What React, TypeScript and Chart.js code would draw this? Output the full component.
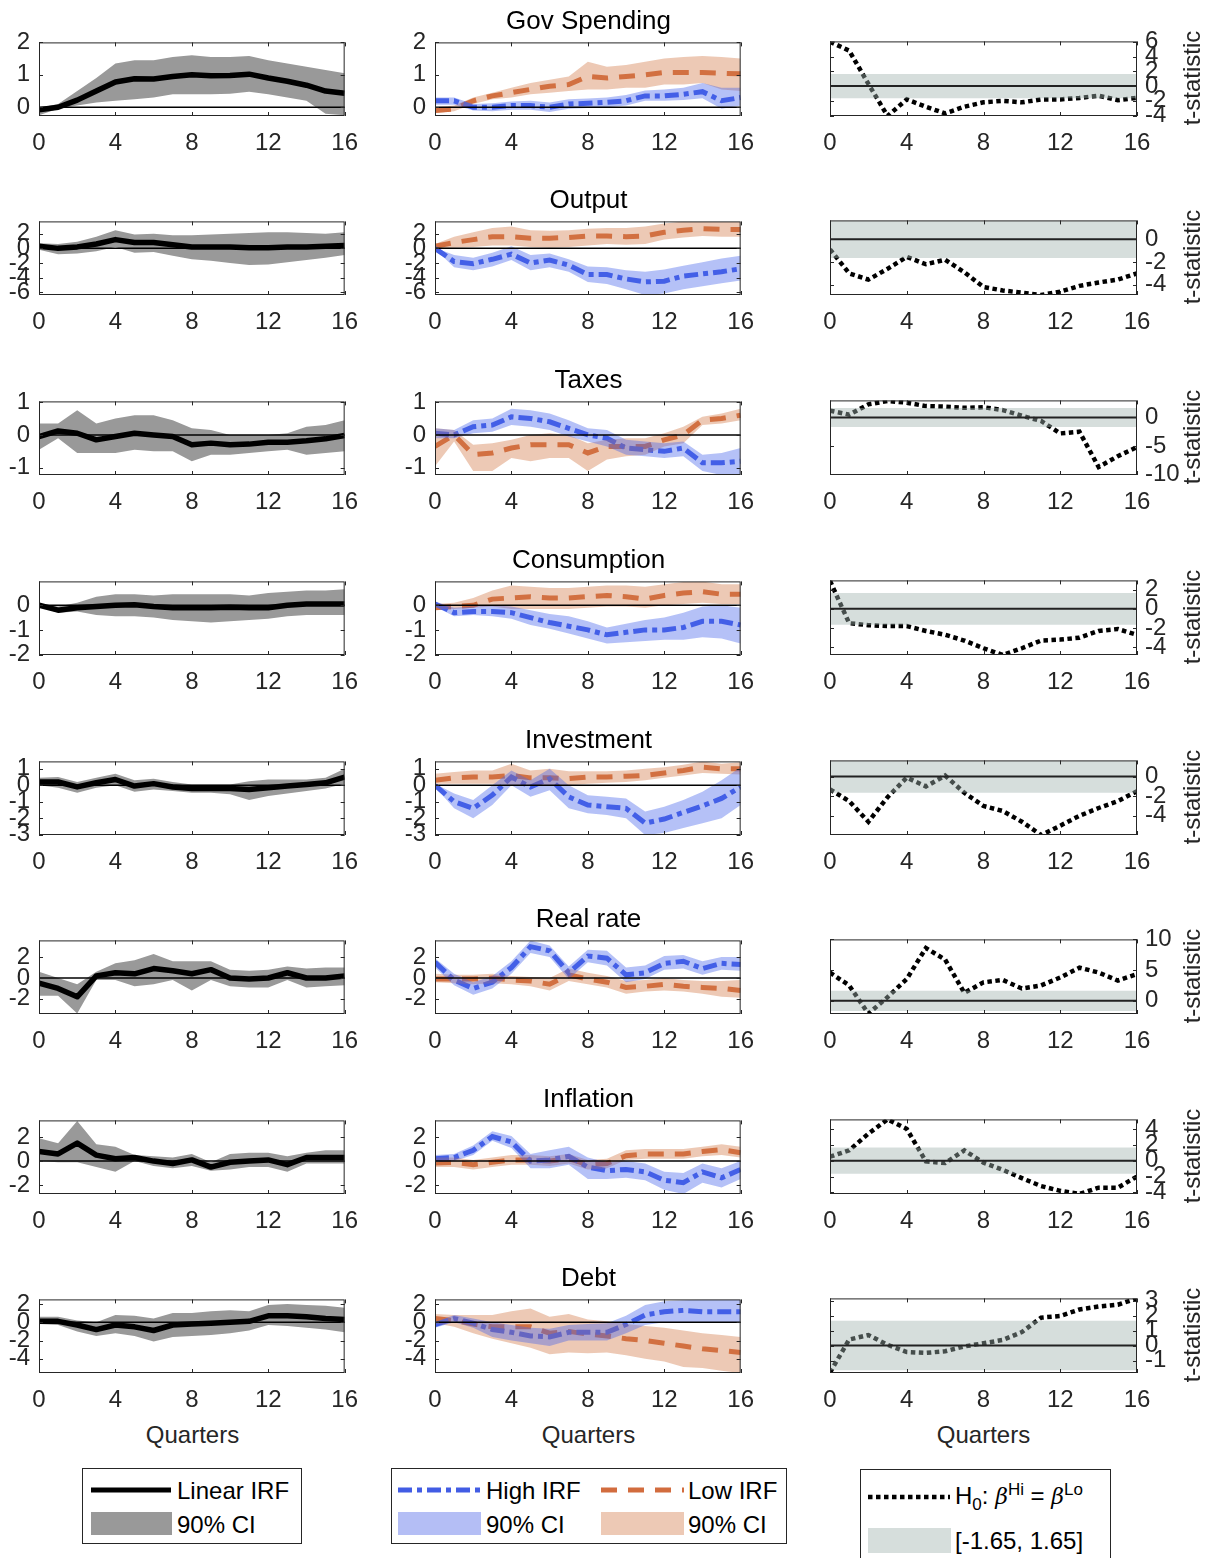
import React, { useEffect, useRef } from 'react';
import { Chart, registerables } from 'chart.js';

Chart.register(...registerables);

const FONT = '"Liberation Sans", Arial, Helvetica, sans-serif';
Chart.defaults.font.family = FONT;
Chart.defaults.font.size = 24;

// ---------------- data ----------------
const QUARTERS = [0, 1, 2, 3, 4, 5, 6, 7, 8, 9, 10, 11, 12, 13, 14, 15, 16];
const X_TICKS = [0, 4, 8, 12, 16];
const VARIABLES = ['Gov Spending', 'Output', 'Taxes', 'Consumption', 'Investment', 'Real rate', 'Inflation', 'Debt'];
const CRIT = 1.65;

// Gov Spending
const GOV_LIN = [-0.08, 0.0, 0.22, 0.5, 0.78, 0.88, 0.87, 0.95, 1.0, 0.97, 0.98, 1.02, 0.9, 0.8, 0.68, 0.5, 0.43];
const GOV_LIN_LO = [-0.25, -0.05, 0.05, 0.15, 0.2, 0.25, 0.3, 0.4, 0.4, 0.4, 0.42, 0.48, 0.4, 0.3, 0.2, -0.2, -0.25];
const GOV_LIN_HI = [-0.02, 0.1, 0.5, 0.9, 1.35, 1.45, 1.45, 1.55, 1.6, 1.55, 1.55, 1.58, 1.45, 1.35, 1.25, 1.15, 1.05];
const GOV_HIGH = [0.2, 0.2, 0.0, 0.0, 0.05, 0.05, 0.0, 0.1, 0.12, 0.15, 0.2, 0.35, 0.35, 0.4, 0.48, 0.2, 0.3];
const GOV_HIGH_LO = [0.08, 0.08, -0.1, -0.12, -0.08, -0.08, -0.15, -0.05, -0.02, 0.0, 0.05, 0.2, 0.2, 0.22, 0.28, -0.05, 0.05];
const GOV_HIGH_HI = [0.3, 0.3, 0.1, 0.12, 0.18, 0.2, 0.15, 0.25, 0.27, 0.3, 0.38, 0.52, 0.55, 0.6, 0.75, 0.6, 0.6];
const GOV_LOW = [-0.1, -0.05, 0.2, 0.35, 0.45, 0.55, 0.65, 0.7, 0.95, 0.9, 0.95, 1.0, 1.07, 1.07, 1.07, 1.05, 1.03];
const GOV_LOW_LO = [-0.18, -0.12, 0.1, 0.25, 0.3, 0.4, 0.45, 0.5, 0.55, 0.55, 0.6, 0.6, 0.7, 0.7, 0.75, 0.55, 0.5];
const GOV_LOW_HI = [0.0, 0.05, 0.3, 0.45, 0.6, 0.75, 0.85, 0.95, 1.4, 1.25, 1.3, 1.4, 1.5, 1.55, 1.58, 1.55, 1.5];
const GOV_T = [6.0, 4.8, 0.3, -4.05, -1.8, -2.8, -3.7, -2.8, -2.2, -2.0, -2.2, -1.8, -1.8, -1.6, -1.3, -1.9, -1.6];

// Output
const OUT_LIN = [0.3, 0.0, 0.2, 0.6, 1.2, 0.8, 0.8, 0.5, 0.2, 0.2, 0.2, 0.1, 0.1, 0.2, 0.2, 0.3, 0.4];
const OUT_LIN_LO = [-0.2, -0.8, -0.7, -0.4, 0.2, -0.6, -0.5, -1.0, -1.5, -1.7, -2.0, -2.3, -2.2, -1.9, -1.6, -1.3, -0.9];
const OUT_LIN_HI = [0.7, 0.6, 0.9, 1.6, 2.5, 1.9, 2.0, 1.8, 1.8, 1.9, 2.0, 2.1, 2.2, 2.2, 2.1, 2.0, 2.2];
const OUT_HIGH = [0.0, -1.8, -2.1, -1.5, -0.8, -2.0, -1.6, -2.3, -3.6, -3.6, -4.2, -4.6, -4.5, -3.8, -3.5, -3.2, -2.8];
const OUT_HIGH_LO = [-0.1, -2.6, -3.0, -2.5, -1.6, -3.0, -2.6, -3.2, -4.6, -4.9, -5.6, -6.4, -6.2, -5.6, -5.2, -4.8, -4.4];
const OUT_HIGH_HI = [0.1, -0.9, -1.3, -0.6, 0.3, -0.9, -0.7, -1.5, -2.5, -2.6, -3.0, -3.2, -2.9, -2.4, -1.9, -1.4, -1.0];
const OUT_LOW = [0.3, 0.8, 1.2, 1.6, 1.6, 1.4, 1.4, 1.5, 1.7, 1.7, 1.6, 1.7, 2.2, 2.5, 2.7, 2.6, 2.6];
const OUT_LOW_LO = [0.0, 0.1, 0.2, 0.4, 0.4, 0.2, 0.1, 0.2, 0.4, 0.6, 0.5, 0.6, 1.2, 1.5, 1.7, 1.6, 1.6];
const OUT_LOW_HI = [0.6, 1.6, 2.2, 2.8, 3.0, 2.5, 2.4, 2.5, 2.7, 2.8, 2.8, 3.0, 3.4, 3.7, 3.7, 3.7, 3.7];
const OUT_T = [-0.9, -3.0, -3.55, -2.6, -1.55, -2.2, -1.8, -2.9, -4.2, -4.5, -4.7, -4.9, -4.6, -4.1, -3.8, -3.55, -3.0];

// Taxes
const TAX_LIN = [-0.05, 0.12, 0.05, -0.15, -0.05, 0.05, 0.0, -0.05, -0.3, -0.25, -0.3, -0.28, -0.22, -0.22, -0.18, -0.12, -0.02];
const TAX_LIN_LO = [-0.45, -0.1, -0.55, -0.55, -0.55, -0.45, -0.5, -0.5, -0.8, -0.6, -0.6, -0.55, -0.5, -0.45, -0.6, -0.55, -0.5];
const TAX_LIN_HI = [0.35, 0.35, 0.75, 0.35, 0.5, 0.6, 0.6, 0.45, 0.2, 0.15, 0.0, 0.0, 0.0, 0.05, 0.25, 0.3, 0.45];
const TAX_HIGH = [0.05, 0.0, 0.25, 0.3, 0.55, 0.5, 0.4, 0.2, 0.0, -0.1, -0.4, -0.45, -0.5, -0.4, -0.85, -0.85, -0.8];
const TAX_HIGH_LO = [-0.1, -0.1, 0.05, 0.1, 0.3, 0.25, 0.15, -0.05, -0.2, -0.35, -0.6, -0.65, -0.7, -0.65, -1.1, -1.22, -1.22];
const TAX_HIGH_HI = [0.2, 0.15, 0.45, 0.5, 0.8, 0.75, 0.65, 0.45, 0.2, 0.15, -0.15, -0.2, -0.25, -0.2, -0.6, -0.55, -0.4];
const TAX_LOW = [-0.35, 0.0, -0.6, -0.55, -0.4, -0.3, -0.3, -0.3, -0.55, -0.35, -0.35, -0.35, -0.15, 0.0, 0.45, 0.5, 0.6];
const TAX_LOW_LO = [-0.95, -0.2, -1.1, -1.1, -0.7, -0.8, -0.7, -0.7, -1.1, -0.75, -0.65, -0.6, -0.35, -0.25, 0.3, 0.35, 0.45];
const TAX_LOW_HI = [0.2, 0.15, -0.3, -0.25, -0.15, 0.0, 0.05, 0.0, -0.25, -0.15, -0.1, -0.1, 0.05, 0.25, 0.55, 0.65, 0.8];
const TAX_T = [1.2, 0.5, 2.3, 2.9, 2.6, 2.0, 1.9, 1.7, 1.8, 1.3, 0.3, -0.6, -2.8, -2.5, -8.7, -6.8, -5.2];

// Consumption
const CON_LIN = [0.0, -0.2, -0.1, -0.05, 0.0, 0.02, -0.05, -0.1, -0.1, -0.1, -0.08, -0.1, -0.1, 0.0, 0.05, 0.05, 0.05];
const CON_LIN_LO = [-0.05, -0.3, -0.25, -0.4, -0.45, -0.45, -0.5, -0.6, -0.65, -0.7, -0.65, -0.6, -0.55, -0.45, -0.4, -0.4, -0.4];
const CON_LIN_HI = [0.05, -0.05, 0.1, 0.35, 0.45, 0.45, 0.4, 0.45, 0.45, 0.45, 0.45, 0.4, 0.5, 0.55, 0.6, 0.6, 0.65];
const CON_HIGH = [0.05, -0.3, -0.25, -0.25, -0.3, -0.5, -0.7, -0.85, -1.0, -1.2, -1.1, -1.0, -1.0, -0.9, -0.65, -0.65, -0.8];
const CON_HIGH_LO = [-0.05, -0.45, -0.4, -0.45, -0.55, -0.8, -0.95, -1.15, -1.35, -1.55, -1.5, -1.45, -1.4, -1.4, -1.3, -1.35, -1.55];
const CON_HIGH_HI = [0.15, -0.1, -0.05, 0.0, -0.05, -0.2, -0.35, -0.45, -0.65, -0.9, -0.75, -0.6, -0.5, -0.3, -0.05, 0.0, -0.1];
const CON_LOW = [-0.1, -0.05, 0.0, 0.25, 0.3, 0.35, 0.3, 0.3, 0.35, 0.4, 0.35, 0.25, 0.4, 0.5, 0.55, 0.45, 0.45];
const CON_LOW_LO = [-0.15, -0.15, -0.1, -0.05, -0.15, -0.15, -0.15, -0.15, -0.1, -0.05, -0.05, -0.1, 0.0, 0.05, 0.1, 0.05, 0.05];
const CON_LOW_HI = [0.05, 0.1, 0.3, 0.6, 0.8, 0.75, 0.7, 0.7, 0.75, 0.8, 0.8, 0.75, 0.85, 0.95, 0.97, 0.85, 0.85];
const CON_T = [2.9, -1.5, -1.7, -1.8, -1.8, -2.3, -2.7, -3.3, -4.1, -4.8, -4.1, -3.3, -3.2, -3.0, -2.3, -2.1, -2.7];

// Investment
const INV_LIN = [0.2, 0.2, -0.1, 0.15, 0.35, -0.05, 0.1, -0.1, -0.2, -0.2, -0.2, -0.25, -0.15, -0.05, 0.05, 0.15, 0.5];
const INV_LIN_LO = [0.0, -0.15, -0.45, -0.15, 0.0, -0.4, -0.25, -0.35, -0.45, -0.45, -0.55, -0.9, -0.65, -0.5, -0.35, -0.2, 0.1];
const INV_LIN_HI = [0.45, 0.5, 0.2, 0.45, 0.7, 0.3, 0.4, 0.2, 0.05, 0.05, 0.05, 0.25, 0.35, 0.35, 0.35, 0.45, 1.0];
const INV_HIGH = [0.0, -1.0, -1.4, -0.6, 0.5, -0.1, 0.4, -0.7, -1.2, -1.3, -1.4, -2.3, -2.05, -1.65, -1.25, -0.8, -0.1];
const INV_HIGH_LO = [-0.1, -1.4, -2.0, -1.2, 0.0, -0.7, -0.3, -1.4, -1.7, -1.8, -2.0, -3.02, -2.9, -2.6, -2.3, -2.0, -1.2];
const INV_HIGH_HI = [0.1, -0.5, -0.9, 0.0, 0.9, 0.3, 1.0, 0.0, -0.6, -0.7, -0.8, -1.6, -1.3, -0.9, -0.4, 0.3, 1.1];
const INV_LOW = [0.3, 0.45, 0.5, 0.5, 0.6, 0.45, 0.45, 0.4, 0.5, 0.5, 0.55, 0.6, 0.75, 0.9, 1.1, 1.0, 1.0];
const INV_LOW_LO = [0.1, 0.1, 0.1, 0.1, 0.0, 0.0, -0.05, 0.0, 0.1, 0.15, 0.2, 0.3, 0.45, 0.6, 0.75, 0.7, 0.65];
const INV_LOW_HI = [0.7, 0.8, 0.9, 0.9, 1.3, 0.9, 1.0, 0.85, 0.85, 0.85, 0.9, 1.0, 1.1, 1.25, 1.45, 1.3, 1.4];
const INV_T = [-1.3, -2.5, -4.6, -2.1, -0.1, -1.0, 0.1, -1.65, -3.0, -3.5, -4.6, -5.95, -5.0, -4.0, -3.2, -2.5, -1.5];

// Real rate
const RR_LIN = [-0.5, -1.0, -1.8, 0.2, 0.5, 0.4, 0.9, 0.7, 0.4, 0.8, 0.0, -0.1, 0.0, 0.5, 0.0, 0.0, 0.2];
const RR_LIN_LO = [-1.7, -1.7, -3.4, -0.2, -0.2, -0.8, -0.6, -0.2, -1.2, -0.2, -0.8, -0.9, -0.9, -0.2, -0.9, -0.8, -0.7];
const RR_LIN_HI = [0.6, 0.0, -0.6, 0.6, 1.4, 1.7, 2.3, 1.6, 1.6, 1.6, 0.8, 0.7, 0.8, 1.1, 0.9, 1.0, 1.0];
const RR_HIGH = [1.5, -0.2, -1.0, -0.4, 1.0, 3.0, 2.6, 0.5, 2.1, 1.9, 0.3, 0.5, 1.4, 1.6, 0.9, 1.4, 1.3];
const RR_HIGH_LO = [1.0, -0.7, -1.6, -1.0, 0.4, 2.4, 2.0, -0.1, 1.5, 1.2, -0.4, -0.1, 0.8, 0.9, 0.3, 0.8, 0.7];
const RR_HIGH_HI = [1.9, 0.4, -0.4, 0.2, 1.6, 3.6, 3.1, 1.1, 2.7, 2.6, 1.0, 1.2, 2.1, 2.2, 1.6, 2.0, 2.0];
const RR_LOW = [-0.1, -0.1, -0.1, 0.0, -0.2, -0.3, -0.6, 0.3, -0.1, -0.4, -0.9, -0.8, -0.6, -0.8, -0.9, -1.0, -1.2];
const RR_LOW_LO = [-0.4, -0.5, -0.6, -0.5, -0.6, -0.8, -1.2, -0.3, -0.6, -0.9, -1.5, -1.3, -1.2, -1.3, -1.5, -1.8, -1.9];
const RR_LOW_HI = [0.4, 0.3, 0.3, 0.4, 0.2, 0.1, 0.0, 0.9, 0.5, 0.2, -0.3, -0.2, 0.0, -0.2, -0.3, -0.3, -0.2];
const RR_T = [4.6, 2.5, -2.1, 0.6, 3.55, 8.6, 6.7, 1.3, 3.0, 3.4, 2.0, 2.5, 3.8, 5.4, 4.6, 3.3, 4.35];

// Inflation
const INF_LIN = [0.8, 0.6, 1.5, 0.5, 0.2, 0.3, 0.0, -0.2, 0.1, -0.5, -0.1, 0.0, 0.1, -0.3, 0.3, 0.3, 0.3];
const INF_LIN_LO = [0.0, -0.1, -0.1, -0.5, -0.9, 0.0, -0.4, -0.6, -0.4, -0.8, -0.7, -0.5, -0.5, -0.9, -0.2, -0.2, -0.2];
const INF_LIN_HI = [1.9, 1.5, 3.35, 1.4, 1.2, 0.5, 0.4, 0.3, 0.6, -0.1, 0.6, 0.7, 0.7, 0.4, 0.7, 0.9, 0.9];
const INF_HIGH = [0.2, 0.3, 0.9, 2.05, 1.6, 0.0, 0.1, 0.4, -0.5, -0.8, -0.7, -0.9, -1.6, -1.8, -0.9, -1.4, -0.7];
const INF_HIGH_LO = [-0.1, 0.0, 0.5, 1.7, 1.1, -0.6, -0.6, -0.3, -1.5, -1.5, -1.4, -1.6, -2.4, -2.75, -1.8, -2.2, -1.5];
const INF_HIGH_HI = [0.5, 0.6, 1.3, 2.5, 2.1, 0.6, 0.9, 1.2, 0.3, -0.1, 0.0, -0.2, -0.9, -1.0, -0.2, -0.6, 0.0];
const INF_LOW = [-0.15, -0.1, -0.3, -0.1, 0.1, 0.1, 0.0, 0.2, -0.3, -0.2, 0.45, 0.6, 0.6, 0.6, 0.8, 0.95, 0.7];
const INF_LOW_LO = [-0.5, -0.5, -0.7, -0.5, -0.3, -0.3, -0.4, -0.2, -0.7, -0.6, 0.1, 0.2, 0.2, 0.2, 0.4, 0.5, 0.3];
const INF_LOW_HI = [0.3, 0.3, 0.1, 0.3, 0.5, 0.5, 0.4, 0.6, 0.1, 0.2, 0.9, 1.0, 1.0, 1.0, 1.2, 1.4, 1.2];
const INF_T = [0.5, 1.3, 3.4, 5.2, 4.0, -0.1, -0.3, 1.3, -0.25, -1.15, -2.2, -3.2, -3.8, -4.2, -3.4, -3.4, -2.0];

// Debt
const DEBT_LIN = [0.1, 0.1, -0.3, -0.8, -0.3, -0.5, -0.9, -0.3, -0.2, -0.1, 0.0, 0.1, 0.7, 0.7, 0.6, 0.4, 0.3];
const DEBT_LIN_LO = [-0.2, -0.3, -1.0, -1.5, -1.2, -1.5, -2.1, -1.6, -1.5, -1.4, -1.2, -0.9, -0.3, -0.4, -0.6, -0.8, -1.1];
const DEBT_LIN_HI = [0.6, 0.6, 0.2, 0.0, 0.8, 0.7, 0.4, 1.0, 1.0, 1.2, 1.3, 1.2, 1.9, 2.0, 1.9, 1.8, 1.6];
const DEBT_HIGH = [-0.25, 0.4, -0.1, -0.8, -1.1, -1.5, -1.6, -1.1, -1.1, -1.1, -0.25, 0.8, 1.15, 1.3, 1.15, 1.15, 1.15];
const DEBT_HIGH_LO = [-0.6, 0.0, -0.6, -1.6, -2.0, -2.3, -2.6, -2.0, -2.0, -2.0, -1.2, -0.3, 0.0, 0.0, 0.0, 0.0, -0.1];
const DEBT_HIGH_HI = [0.0, 0.8, 0.4, 0.0, -0.3, -0.6, -0.7, -0.3, -0.2, -0.1, 0.7, 1.9, 2.3, 2.4, 2.5, 2.5, 2.5];
const DEBT_LOW = [0.4, 0.2, -0.2, -0.5, -0.5, -0.5, -1.2, -1.0, -1.3, -1.5, -1.8, -2.0, -2.3, -2.6, -2.9, -3.1, -3.3];
const DEBT_LOW_LO = [-0.1, -0.5, -1.2, -1.8, -2.3, -2.8, -3.5, -3.3, -3.4, -3.3, -3.6, -4.0, -4.3, -4.9, -5.0, -5.3, -5.55];
const DEBT_LOW_HI = [0.9, 0.8, 0.8, 0.8, 1.2, 1.5, 0.6, 0.9, 0.3, 0.1, -0.2, -0.4, -0.6, -0.9, -1.2, -1.4, -1.6];
const DEBT_T = [-1.8, 0.4, 0.7, 0.05, -0.43, -0.49, -0.38, -0.06, 0.15, 0.37, 0.9, 1.86, 1.97, 2.4, 2.6, 2.72, 3.14];

// axis limits and ticks (IRF columns share limits per row; t-statistic column separate)
const IRF_Y_MIN = [-0.27, -6.4, -1.22, -2.02, -3.02, -3.45, -2.75, -5.55];
const IRF_Y_MAX = [2.0, 3.7, 1.02, 0.97, 1.45, 3.6, 3.4, 2.5];
const IRF_Y_TICKS = [[0, 1, 2], [-6, -4, -2, 0, 2], [-1, 0, 1], [-2, -1, 0], [-3, -2, -1, 0, 1], [-2, 0, 2], [-2, 0, 2], [-4, -2, 0, 2]];
const T_Y_MIN = [-4.05, -4.9, -10.1, -4.8, -5.95, -2.15, -4.2, -1.83];
const T_Y_MAX = [6.05, 1.65, 3.0, 2.95, 1.65, 10, 5.2, 3.14];
const T_Y_TICKS = [[-4, -2, 0, 2, 4, 6], [-4, -2, 0], [-10, -5, 0], [-4, -2, 0, 2], [-4, -2, 0], [0, 5, 10], [-4, -2, 0, 2, 4], [-1, 0, 1, 2, 3]];

// ---------------- styling / layout ----------------
const GRAY_BAND = 'rgb(153,153,153)';
const BLUE_LINE = 'rgb(66,92,228)';
const ORANGE_LINE = 'rgb(210,108,62)';
const BLUE_BAND = 'rgba(70,100,235,0.4)';
const ORANGE_BAND = 'rgba(210,120,70,0.4)';
const T_BAND = 'rgba(161,179,175,0.435)';
const AXIS_COLOR = '#262626';

const PLOT_LEFT = [39, 435, 830];
const PLOT_W = 307;
const PLOT_H = 77;
const ROW_TOP = [39, 218, 398, 578, 758, 937, 1117, 1296];
const AX_L = 38;
const PAD_T = 20;
const AX_B = 46;
const PAD_R = 25;
const AX_R = 60;

const boxPlugin = {
  id: 'matlabBox',
  afterDatasetsDraw(chart: any, _args: any, opts: any) {
    const { ctx, chartArea: a, scales } = chart;
    ctx.save();
    // zero reference line
    const y0 = scales.y.getPixelForValue(0);
    ctx.beginPath();
    ctx.moveTo(a.left, y0);
    ctx.lineTo(a.right, y0);
    ctx.lineWidth = opts.zeroWidth || 1.5;
    ctx.strokeStyle = opts.zeroColor || '#000';
    ctx.setLineDash([]);
    ctx.stroke();
    // box
    ctx.lineWidth = 1;
    ctx.strokeStyle = AXIS_COLOR;
    ctx.strokeRect(a.left + 0.5, a.top + 0.5, a.right - a.left - 1, a.bottom - a.top - 1);
    // inward ticks on all sides
    const TL = 4;
    ctx.beginPath();
    for (const t of scales.x.ticks) {
      const px = Math.round(scales.x.getPixelForValue(t.value)) + 0.5;
      ctx.moveTo(px, a.bottom);
      ctx.lineTo(px, a.bottom - TL);
      ctx.moveTo(px, a.top);
      ctx.lineTo(px, a.top + TL);
    }
    for (const t of scales.y.ticks) {
      const py = Math.round(scales.y.getPixelForValue(t.value)) + 0.5;
      ctx.moveTo(a.left, py);
      ctx.lineTo(a.left + TL, py);
      ctx.moveTo(a.right, py);
      ctx.lineTo(a.right - TL, py);
    }
    ctx.stroke();
    ctx.restore();
  },
};

function pts(arr: number[]) {
  return QUARTERS.map((q, i) => ({ x: q, y: arr[i] }));
}

function bandPair(lo: number[], hi: number[], color: string, order: number) {
  return [
    { data: pts(lo), borderWidth: 0, borderColor: 'rgba(0,0,0,0)', pointRadius: 0, fill: false, order },
    { data: pts(hi), borderWidth: 0, borderColor: 'rgba(0,0,0,0)', pointRadius: 0, fill: '-1', backgroundColor: color, order },
  ];
}

function makeOptions(row: number, isT: boolean) {
  const yMin = isT ? T_Y_MIN[row] : IRF_Y_MIN[row];
  const yMax = isT ? T_Y_MAX[row] : IRF_Y_MAX[row];
  const yTicks = isT ? T_Y_TICKS[row] : IRF_Y_TICKS[row];
  return {
    responsive: false,
    animation: false,
    events: [],
    layout: {
      autoPadding: false,
      padding: { top: PAD_T, left: isT ? AX_L : 0, right: isT ? 0 : PAD_R, bottom: 0 },
    },
    plugins: {
      legend: { display: false },
      tooltip: { enabled: false },
      title: { display: false },
      matlabBox: isT ? { zeroColor: '#222', zeroWidth: 2 } : { zeroColor: '#000', zeroWidth: 1.5 },
    },
    scales: {
      x: {
        type: 'linear',
        min: 0,
        max: 16,
        bounds: 'data',
        grid: { display: false, drawTicks: false },
        border: { display: false },
        afterBuildTicks: (s: any) => {
          s.ticks = X_TICKS.map((v) => ({ value: v }));
        },
        afterFit: (s: any) => {
          s.height = AX_B;
        },
        ticks: {
          autoSkip: false,
          maxRotation: 0,
          minRotation: 0,
          padding: 13,
          color: AXIS_COLOR,
          font: { family: FONT, size: 24 },
          callback: (v: any) => String(v),
        },
      },
      y: {
        type: 'linear',
        position: isT ? 'right' : 'left',
        min: yMin,
        max: yMax,
        bounds: 'data',
        grid: { display: false, drawTicks: false },
        border: { display: false },
        afterBuildTicks: (s: any) => {
          s.ticks = yTicks.map((v) => ({ value: v }));
        },
        afterFit: (s: any) => {
          s.width = isT ? AX_R : AX_L;
        },
        ticks: {
          autoSkip: false,
          padding: isT ? 8 : 9,
          color: AXIS_COLOR,
          font: { family: FONT, size: 24 },
          callback: (v: any) => String(v),
        },
      },
    },
  };
}

type RowData = {
  lin: number[]; linLo: number[]; linHi: number[];
  high: number[]; highLo: number[]; highHi: number[];
  low: number[]; lowLo: number[]; lowHi: number[];
  t: number[];
};

const ROWS: RowData[] = [
  { lin: GOV_LIN, linLo: GOV_LIN_LO, linHi: GOV_LIN_HI, high: GOV_HIGH, highLo: GOV_HIGH_LO, highHi: GOV_HIGH_HI, low: GOV_LOW, lowLo: GOV_LOW_LO, lowHi: GOV_LOW_HI, t: GOV_T },
  { lin: OUT_LIN, linLo: OUT_LIN_LO, linHi: OUT_LIN_HI, high: OUT_HIGH, highLo: OUT_HIGH_LO, highHi: OUT_HIGH_HI, low: OUT_LOW, lowLo: OUT_LOW_LO, lowHi: OUT_LOW_HI, t: OUT_T },
  { lin: TAX_LIN, linLo: TAX_LIN_LO, linHi: TAX_LIN_HI, high: TAX_HIGH, highLo: TAX_HIGH_LO, highHi: TAX_HIGH_HI, low: TAX_LOW, lowLo: TAX_LOW_LO, lowHi: TAX_LOW_HI, t: TAX_T },
  { lin: CON_LIN, linLo: CON_LIN_LO, linHi: CON_LIN_HI, high: CON_HIGH, highLo: CON_HIGH_LO, highHi: CON_HIGH_HI, low: CON_LOW, lowLo: CON_LOW_LO, lowHi: CON_LOW_HI, t: CON_T },
  { lin: INV_LIN, linLo: INV_LIN_LO, linHi: INV_LIN_HI, high: INV_HIGH, highLo: INV_HIGH_LO, highHi: INV_HIGH_HI, low: INV_LOW, lowLo: INV_LOW_LO, lowHi: INV_LOW_HI, t: INV_T },
  { lin: RR_LIN, linLo: RR_LIN_LO, linHi: RR_LIN_HI, high: RR_HIGH, highLo: RR_HIGH_LO, highHi: RR_HIGH_HI, low: RR_LOW, lowLo: RR_LOW_LO, lowHi: RR_LOW_HI, t: RR_T },
  { lin: INF_LIN, linLo: INF_LIN_LO, linHi: INF_LIN_HI, high: INF_HIGH, highLo: INF_HIGH_LO, highHi: INF_HIGH_HI, low: INF_LOW, lowLo: INF_LOW_LO, lowHi: INF_LOW_HI, t: INF_T },
  { lin: DEBT_LIN, linLo: DEBT_LIN_LO, linHi: DEBT_LIN_HI, high: DEBT_HIGH, highLo: DEBT_HIGH_LO, highHi: DEBT_HIGH_HI, low: DEBT_LOW, lowLo: DEBT_LOW_LO, lowHi: DEBT_LOW_HI, t: DEBT_T },
];

function makeConfig(row: number, col: number): any {
  const r = ROWS[row];
  let datasets: any[];
  if (col === 0) {
    datasets = [
      ...bandPair(r.linLo, r.linHi, GRAY_BAND, 3),
      { data: pts(r.lin), borderColor: '#000', borderWidth: 5.5, pointRadius: 0, fill: false, borderJoinStyle: 'round', order: 1 },
    ];
  } else if (col === 1) {
    datasets = [
      ...bandPair(r.highLo, r.highHi, BLUE_BAND, 1),
      ...bandPair(r.lowLo, r.lowHi, ORANGE_BAND, 1),
      { data: pts(r.high), borderColor: BLUE_LINE, borderWidth: 5, borderDash: [14, 5, 5, 5], pointRadius: 0, fill: false, order: 2 },
      { data: pts(r.low), borderColor: ORANGE_LINE, borderWidth: 5, borderDash: [16, 11], pointRadius: 0, fill: false, order: 3 },
    ];
  } else {
    datasets = [
      ...bandPair(QUARTERS.map(() => -CRIT), QUARTERS.map(() => CRIT), T_BAND, 1),
      { data: pts(r.t), borderColor: '#000', borderWidth: 4.5, borderDash: [4.5, 3.5], pointRadius: 0, fill: false, order: 2 },
    ];
  }
  return {
    type: 'line',
    data: { datasets },
    options: makeOptions(row, col === 2),
    plugins: [boxPlugin],
  };
}

function Panel({ row, col }: { row: number; col: number }) {
  const ref = useRef<HTMLCanvasElement>(null);
  const isT = col === 2;
  const width = AX_L + PLOT_W + (isT ? AX_R : PAD_R);
  const height = PAD_T + PLOT_H + AX_B;
  const left = PLOT_LEFT[col] - AX_L;
  const top = ROW_TOP[row] - PAD_T;
  useEffect(() => {
    const chart = new Chart(ref.current as HTMLCanvasElement, makeConfig(row, col));
    return () => chart.destroy();
  }, [row, col]);
  return (
    <canvas
      ref={ref}
      width={width}
      height={height}
      style={{ position: 'absolute', left, top, width, height }}
    />
  );
}

const textBase: React.CSSProperties = {
  position: 'absolute',
  fontFamily: FONT,
  fontSize: 24,
  lineHeight: '24px',
  whiteSpace: 'nowrap',
  color: '#000',
};

function LineSample({ x, y, w, color, width, dash }: { x: number; y: number; w: number; color: string; width: number; dash?: string }) {
  return (
    <svg style={{ position: 'absolute', left: x, top: y - 10 }} width={w} height={20}>
      <line x1={0} y1={10} x2={w} y2={10} stroke={color} strokeWidth={width} strokeDasharray={dash} />
    </svg>
  );
}

function Patch({ x, y, w, h, color }: { x: number; y: number; w: number; h: number; color: string }) {
  return <div style={{ position: 'absolute', left: x, top: y, width: w, height: h, background: color }} />;
}

function Label({ x, y, children }: { x: number; y: number; children: React.ReactNode }) {
  return <div style={{ ...textBase, left: x, top: y, transform: 'translateY(-50%)' }}>{children}</div>;
}

export default function App() {
  const colCenters = PLOT_LEFT.map((l) => l + PLOT_W / 2);
  return (
    <div
      style={{
        position: 'absolute',
        left: 0,
        top: 0,
        width: 1220,
        height: 1558,
        background: '#fff',
        overflow: 'hidden',
        fontFamily: FONT,
      }}
    >
      {ROW_TOP.map((_, row) =>
        [0, 1, 2].map((col) => <Panel key={`${row}-${col}`} row={row} col={col} />)
      )}
      {VARIABLES.map((name, row) => (
        <div
          key={name}
          style={{
            ...textBase,
            fontSize: 26,
            lineHeight: '26px',
            left: colCenters[1],
            top: ROW_TOP[row] - 19,
            transform: 'translate(-50%, -50%)',
          }}
        >
          {name}
        </div>
      ))}
      {ROW_TOP.map((top, row) => (
        <div
          key={`t-${row}`}
          style={{
            ...textBase,
            color: AXIS_COLOR,
            left: 1192,
            top: top + PLOT_H / 2,
            transform: 'translate(-50%, -50%) rotate(-90deg)',
          }}
        >
          t-statistic
        </div>
      ))}
      {colCenters.map((cx, i) => (
        <div
          key={`q-${i}`}
          style={{ ...textBase, color: AXIS_COLOR, left: cx, top: 1435, transform: 'translate(-50%, -50%)' }}
        >
          Quarters
        </div>
      ))}

      {/* Legend 1 */}
      <div style={{ position: 'absolute', left: 82, top: 1468, width: 220, height: 76, border: `1px solid ${AXIS_COLOR}`, boxSizing: 'border-box', background: '#fff' }} />
      <LineSample x={91} y={1490} w={80} color="#000" width={5} />
      <Label x={177} y={1491}>Linear IRF</Label>
      <Patch x={91} y={1512} w={81} h={23} color={GRAY_BAND} />
      <Label x={177} y={1525}>90% CI</Label>

      {/* Legend 2 */}
      <div style={{ position: 'absolute', left: 391, top: 1468, width: 396, height: 76, border: `1px solid ${AXIS_COLOR}`, boxSizing: 'border-box', background: '#fff' }} />
      <LineSample x={398} y={1490} w={83} color={BLUE_LINE} width={5} dash="14 5 5 5" />
      <Label x={486} y={1491}>High IRF</Label>
      <LineSample x={601} y={1490} w={83} color={ORANGE_LINE} width={5} dash="16 11" />
      <Label x={688} y={1491}>Low IRF</Label>
      <Patch x={398} y={1512} w={83} h={23} color="rgb(180,190,245)" />
      <Label x={486} y={1525}>90% CI</Label>
      <Patch x={601} y={1512} w={83} h={23} color="rgb(237,201,181)" />
      <Label x={688} y={1525}>90% CI</Label>

      {/* Legend 3 */}
      <div style={{ position: 'absolute', left: 860, top: 1469, width: 251, height: 110, border: `1px solid ${AXIS_COLOR}`, boxSizing: 'border-box', background: '#fff' }} />
      <LineSample x={868} y={1497} w={82} color="#000" width={4.5} dash="4.5 3.5" />
      <Label x={955} y={1497}>
        H<sub style={{ fontSize: 17, verticalAlign: '-6px' }}>0</sub>: <i style={{ fontFamily: '"DejaVu Serif", serif', fontSize: 22 }}>β</i>
        <sup style={{ fontSize: 17, verticalAlign: '9px' }}>Hi</sup> = <i style={{ fontFamily: '"DejaVu Serif", serif', fontSize: 22 }}>β</i>
        <sup style={{ fontSize: 17, verticalAlign: '9px' }}>Lo</sup>
      </Label>
      <Patch x={868} y={1528} w={83} h={25} color="rgb(214,222,220)" />
      <Label x={955} y={1541}>[-1.65, 1.65]</Label>
    </div>
  );
}
